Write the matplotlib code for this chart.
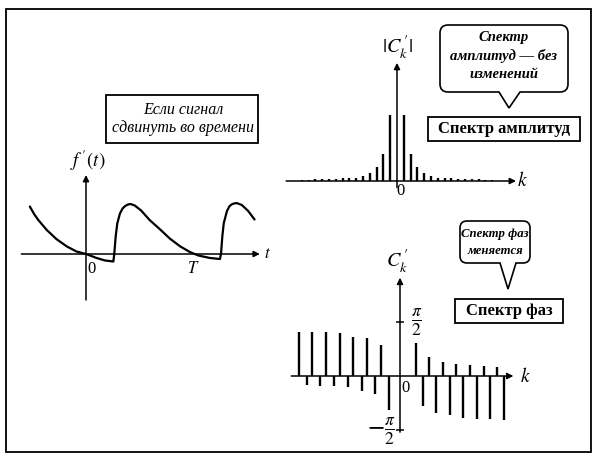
import numpy as np
import matplotlib.pyplot as plt
from matplotlib.patches import Rectangle, PathPatch
from matplotlib.path import Path

plt.rcParams['font.family'] = ['Liberation Serif', 'DejaVu Serif']
plt.rcParams['mathtext.fontset'] = 'stix'

W, H = 597, 465

# shifted signal f'(t), t in periods T
sig_t = [-0.53, -0.49, -0.45, -0.37, -0.28, -0.18, -0.09, 0.0, 0.10, 0.18, 0.258,
         0.267, 0.28, 0.295, 0.32, 0.345, 0.37, 0.395, 0.42, 0.46, 0.52, 0.60,
         0.70, 0.79, 0.89, 0.98, 1.06, 1.17, 1.264,
         1.274, 1.286, 1.30, 1.33, 1.355, 1.38, 1.42, 1.47, 1.53, 1.59]
sig_f = [0.95, 0.80, 0.68, 0.48, 0.30, 0.15, 0.05, 0.0, -0.08, -0.13, -0.15,
         0.01, 0.35, 0.61, 0.81, 0.91, 0.96, 0.99, 1.0, 0.97, 0.87, 0.68,
         0.49, 0.31, 0.15, 0.04, -0.03, -0.08, -0.10,
         0.01, 0.35, 0.62, 0.86, 0.96, 1.0, 1.02, 0.98, 0.86, 0.69]

# amplitude spectrum |C_k'| (relative to k = 1)
amp_k = [-14, -13, -12, -11, -10, -9, -8, -7, -6, -5, -4, -3, -2, -1,
         1, 2, 3, 4, 5, 6, 7, 8, 9, 10, 11, 12, 13, 14]
amp_v = [0.02, 0.02, 0.025, 0.03, 0.03, 0.035, 0.04, 0.045, 0.05, 0.07, 0.12, 0.21, 0.41, 1.0,
         1.0, 0.41, 0.21, 0.12, 0.07, 0.05, 0.045, 0.04, 0.035, 0.03, 0.03, 0.025, 0.02, 0.02]

# phase spectrum, values in units of pi/2
ph_up_k = [-14.9, -13.0, -10.95, -8.9, -6.9, -4.85, -2.8,
           2.35, 4.35, 6.35, 8.35, 10.35, 12.4, 14.4]
ph_up_v = [0.82, 0.82, 0.82, 0.79, 0.73, 0.71, 0.57,
           0.62, 0.36, 0.26, 0.22, 0.20, 0.19, 0.17]
ph_dn_k = [-13.75, -11.8, -9.75, -7.65, -5.65, -3.7, -1.7,
           3.35, 5.35, 7.4, 9.4, 11.45, 13.4, 15.4]
ph_dn_v = [-0.17, -0.19, -0.19, -0.21, -0.27, -0.34, -0.63,
           -0.56, -0.69, -0.72, -0.78, -0.80, -0.80, -0.82]

fig = plt.figure(figsize=(W / 100, H / 100), dpi=100)


def fx(x):
    return x / W


def fy(y):
    return 1 - y / H


def panel(box, origin, scale):
    # box and origin in pixels, scale = pixels per data unit
    x0, y0, x1, y1 = box
    ox, oy = origin
    sx, sy = scale
    ax = fig.add_axes([fx(x0), fy(y1), (x1 - x0) / W, (y1 - y0) / H])
    ax.set_xlim((x0 - ox) / sx, (x1 - ox) / sx)
    ax.set_ylim((oy - y1) / sy, (oy - y0) / sy)
    ax.axis('off')
    return ax


def arrow(ax, start, end):
    ax.annotate("", xy=end, xytext=start,
                arrowprops=dict(arrowstyle="-|>", lw=1.1, color="k",
                                mutation_scale=9, shrinkA=0, shrinkB=0))


def txt(x, y, s, **kw):
    fig.text(fx(x), fy(y), s, ha=kw.pop('ha', 'center'),
             va=kw.pop('va', 'center'), **kw)


def box(x0, y0, x1, y1):
    fig.patches.append(Rectangle((fx(x0), fy(y1)), (x1 - x0) / W, (y1 - y0) / H,
                                 transform=fig.transFigure, fill=False,
                                 lw=1.3, ec="k"))


def bubble(x0, y0, x1, y1, r, p0, p1, tip):
    pts = [(x0 + r, y0), (x1 - r, y0), (x1, y0), (x1, y0 + r), (x1, y1 - r),
           (x1, y1), (x1 - r, y1), (p1, y1), tip, (p0, y1), (x0 + r, y1),
           (x0, y1), (x0, y1 - r), (x0, y0 + r), (x0, y0), (x0 + r, y0), (0, 0)]
    codes = [Path.MOVETO, Path.LINETO, Path.CURVE3, Path.CURVE3, Path.LINETO,
             Path.CURVE3, Path.CURVE3, Path.LINETO, Path.LINETO, Path.LINETO,
             Path.LINETO, Path.CURVE3, Path.CURVE3, Path.LINETO, Path.CURVE3,
             Path.CURVE3, Path.CLOSEPOLY]
    verts = [(fx(a), fy(b)) for a, b in pts]
    fig.patches.append(PathPatch(Path(verts, codes), transform=fig.transFigure,
                                 fc="white", ec="k", lw=1.2))


# outer frame
box(6, 9, 591, 452)

# --- signal ---
ax1 = panel((15, 160, 280, 305), (86, 254), (106, 50))
ax1.plot(sig_t, sig_f, color="k", lw=1.6, solid_joinstyle="round",
         solid_capstyle="round")
arrow(ax1, (-0.61, 0), (1.64, 0))
arrow(ax1, (0, -0.92), (0, 1.58))
txt(88, 161, r"$f^{\,\prime}(t)$", fontsize=13.5)
txt(267, 254, r"$t$", fontsize=12)
txt(92, 269, "0", fontsize=12)
txt(193, 269, r"$T$", fontsize=12)

box(106, 95, 258, 143)
txt(183, 110, "Если сигнал", fontsize=11.5, style="italic")
txt(183, 128, "сдвинуть во времени", fontsize=11.5, style="italic")

# --- amplitude spectrum ---
ax2 = panel((285, 40, 535, 200), (397, 181), (6.8, 66))
ax2.vlines(amp_k, 0, amp_v, color="k", lw=1.7)
arrow(ax2, (-16.3, 0), (17.5, 0))
arrow(ax2, (0, -0.1), (0, 1.79))
txt(397, 47, r"$|C_k^{\,\prime}|$", fontsize=14.5)
txt(522, 181, r"$k$", fontsize=14)
txt(400, 191, "0", fontsize=12)

bubble(440, 25, 568, 92, 8, 499, 520, (509, 108))
txt(504, 37, "Спектр", fontsize=10.5, style="italic", weight="bold")
txt(504, 56, "амплитуд — без", fontsize=10.5, style="italic", weight="bold")
txt(504, 75, "изменений", fontsize=10.5, style="italic", weight="bold")
box(428, 117, 580, 141)
txt(504, 129, "Спектр амплитуд", fontsize=12, weight="bold")

# --- phase spectrum ---
ax3 = panel((285, 240, 535, 445), (400, 376), (6.75, 54))
ax3.vlines(ph_up_k, 0, ph_up_v, color="k", lw=1.7)
ax3.vlines(ph_dn_k, 0, ph_dn_v, color="k", lw=1.7)
arrow(ax3, (-16.1, 0), (16.8, 0))
arrow(ax3, (0, -1.04), (0, 1.82))
ax3.hlines([1, -1], -0.6, 0.6, color="k", lw=1.1)
txt(397, 261, r"$C_k^{\,\prime}$", fontsize=14.5)
txt(525, 376, r"$k$", fontsize=14)
txt(405, 388, "0", fontsize=12)
txt(411, 323, r"$\frac{\pi}{2}$", fontsize=18, ha="left")
txt(395, 432, r"$-\frac{\pi}{2}$", fontsize=18, ha="right")

bubble(460, 221, 530, 263, 7, 500, 516, (508, 289))
txt(495, 234, "Спектр фаз", fontsize=9.2, style="italic", weight="bold")
txt(495, 251, "меняется", fontsize=9.2, style="italic", weight="bold")
box(455, 299, 563, 323)
txt(509, 311, "Спектр фаз", fontsize=12, weight="bold")

fig.savefig("out.png", dpi=100)
